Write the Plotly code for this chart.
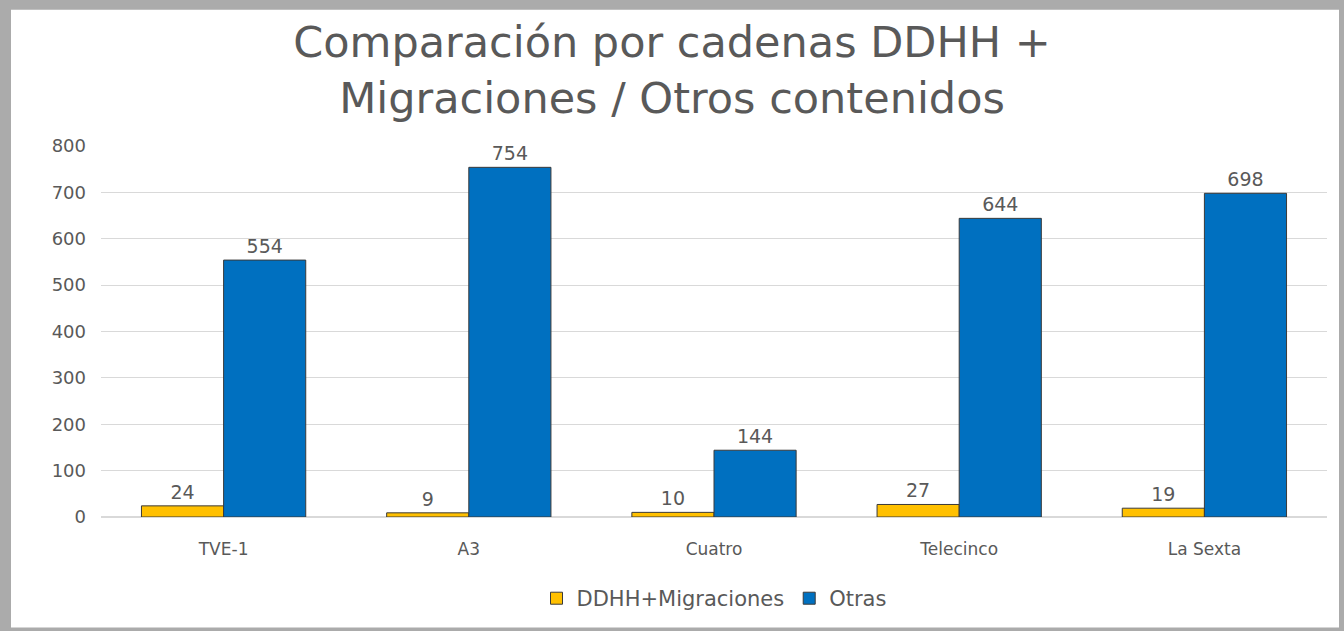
import plotly.graph_objects as go

categories = ["TVE-1", "A3", "Cuatro", "Telecinco", "La Sexta"]
ddhh = [24, 9, 10, 27, 19]
otras = [554, 754, 144, 644, 698]
y_ticks = [0, 100, 200, 300, 400, 500, 600, 700, 800]

W, H = 1344, 631
L, R, T, B = 101, 17, 146, 112
pw, ph = W - L - R, H - T - B

def px(x):
    return (x - L) / pw

def py(y):
    return (H - B - y) / ph

txt = "#595959"
font = "DejaVu Sans, sans-serif"

fig = go.Figure()
fig.add_trace(go.Bar(
    x=categories, y=ddhh, name="DDHH+Migraciones",
    marker=dict(color="#FFC000", line=dict(color="#3a3a3a", width=1)),
    text=ddhh, textposition="outside", cliponaxis=False,
    textfont=dict(size=19, color=txt, family=font),
))
fig.add_trace(go.Bar(
    x=categories, y=otras, name="Otras",
    marker=dict(color="#0070C0", line=dict(color="#3a3a3a", width=1)),
    text=otras, textposition="outside", cliponaxis=False,
    textfont=dict(size=19, color=txt, family=font),
))

fig.update_layout(
    width=W, height=H,
    margin=dict(l=L, r=R, t=T, b=B),
    paper_bgcolor="#ababab",
    plot_bgcolor="rgba(0,0,0,0)",
    barmode="group", bargap=0.33, bargroupgap=0,
    title=dict(
        text="Comparación por cadenas DDHH +<br>Migraciones / Otros contenidos",
        x=0.5, xanchor="center", y=1 - 57 / H, yanchor="middle",
        font=dict(size=43, color=txt, family=font),
    ),
    legend=dict(
        orientation="h", x=0.5, xanchor="center", y=py(601), yanchor="middle",
        font=dict(size=21, color=txt, family=font),
        bgcolor="rgba(0,0,0,0)", itemwidth=30, traceorder="normal",
    ),
    shapes=[dict(
        type="rect", xref="paper", yref="paper", layer="below",
        x0=px(11), x1=px(1339), y0=py(9), y1=py(630),
        fillcolor="white", line=dict(width=0),
    )],
    showlegend=True,
)
fig.update_xaxes(
    showgrid=False, showline=False, ticks="",
    tickfont=dict(size=17, color=txt, family=font), ticklabelstandoff=20,
)
fig.update_yaxes(
    range=[0, 800], tickvals=y_ticks, showgrid=True, gridcolor="#d9d9d9",
    gridwidth=1, zeroline=True, zerolinecolor="#d9d9d9", showline=False,
    tickfont=dict(size=18, color=txt, family=font), ticklabelstandoff=14,
)

fig.write_html("out.html", config={"displayModeBar": False},
               post_script="document.body.style.margin='0';")
